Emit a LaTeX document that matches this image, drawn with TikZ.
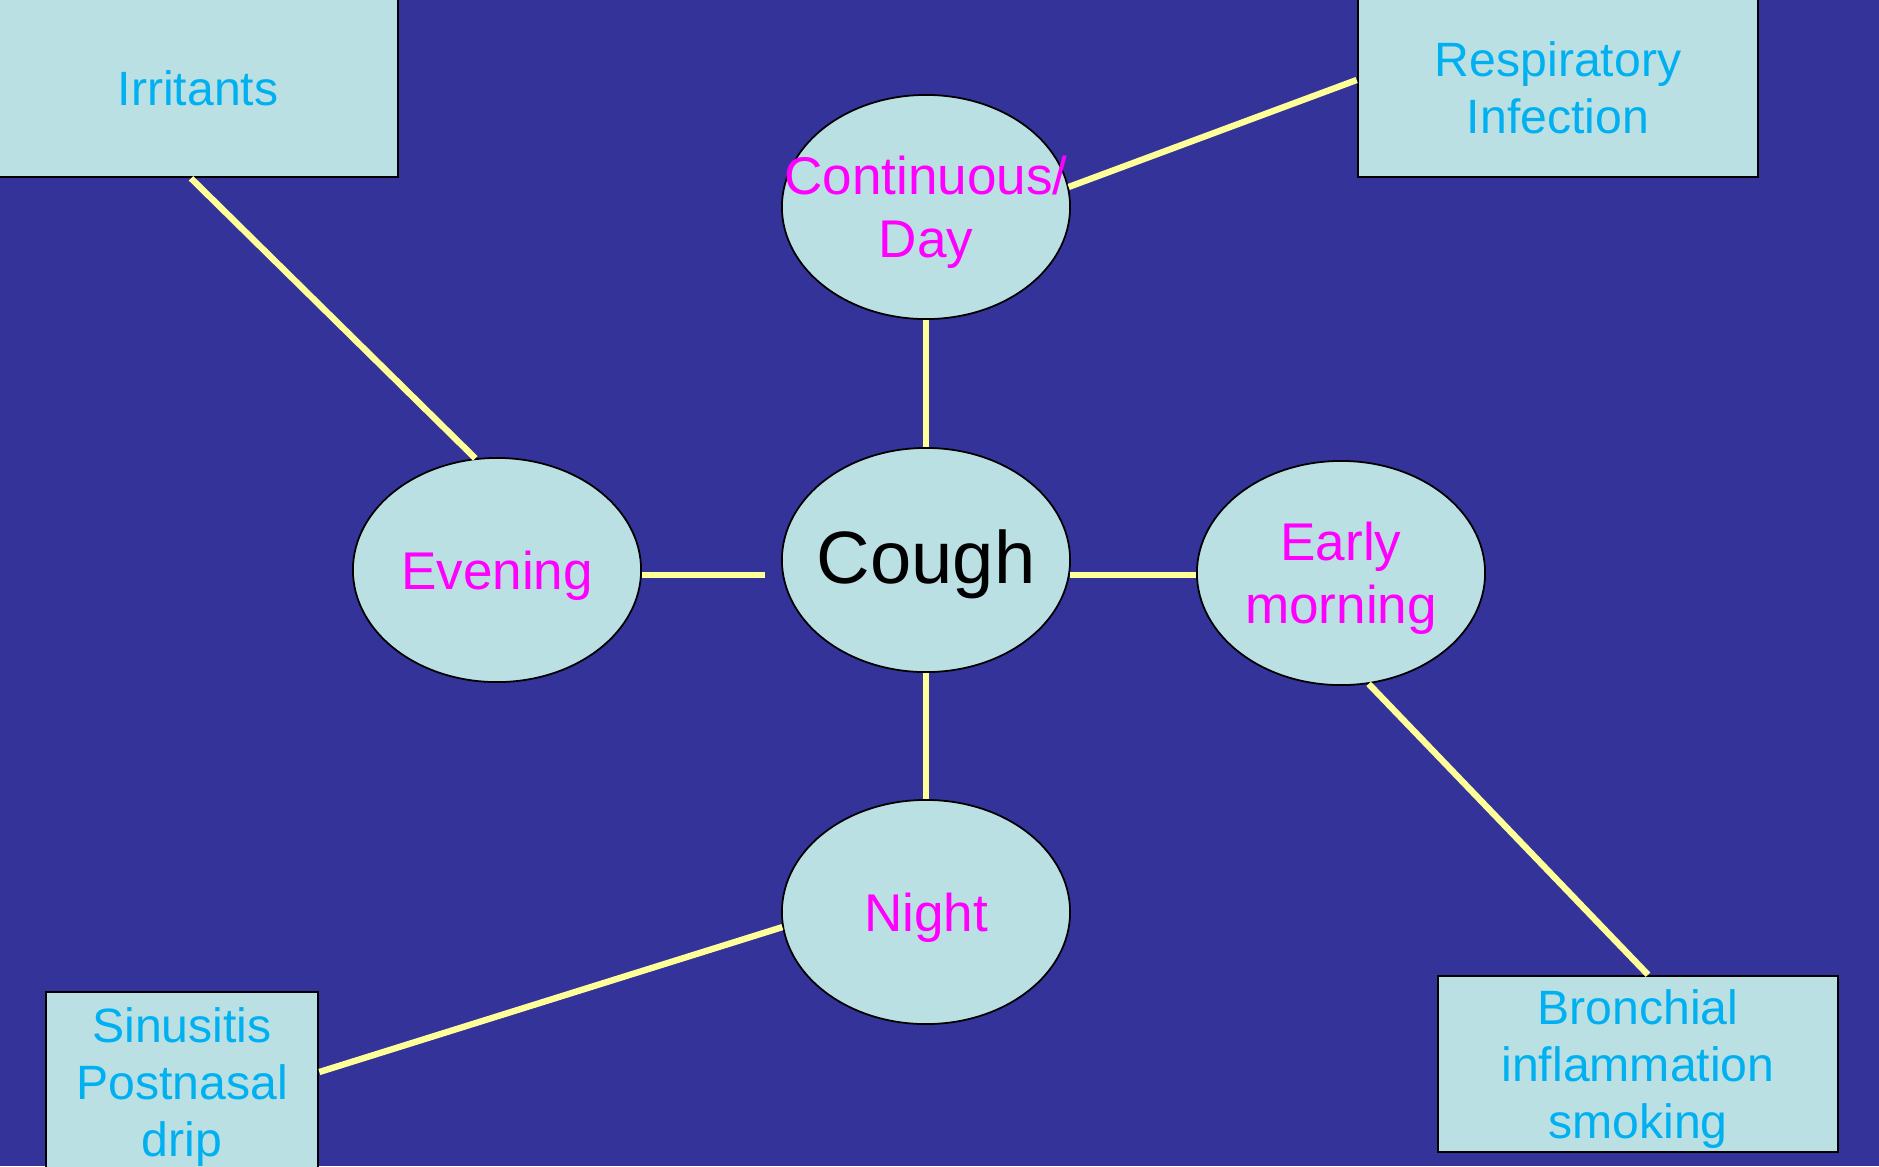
\documentclass[tikz,border=0pt]{standalone}
\usepackage{fontspec}
\setmainfont{Liberation Sans}
\usetikzlibrary{shapes.geometric}
\definecolor{slideblue}{RGB}{51,51,153}
\definecolor{paleteal}{RGB}{187,224,227}
\definecolor{causeblue}{RGB}{0,176,240}
\definecolor{timemagenta}{RGB}{255,0,255}
\definecolor{linkyellow}{RGB}{255,255,153}

\begin{document}
\begin{tikzpicture}[x=0.01cm, y=-0.01cm,
  bubble/.style={draw, ellipse, fill=paleteal, line width=0.5pt, minimum width=2.88cm, minimum height=2.24cm, inner xsep=-1cm, inner ysep=0pt, text depth=0pt, align=center, text=timemagenta, font=\fontsize{15.1}{18}\selectfont},
  cause/.style={draw, rectangle, fill=paleteal, line width=0.7pt, inner sep=0pt, align=center, text=causeblue, font=\fontsize{13.7}{16.3}\selectfont},
  link/.style={linkyellow, line width=1.8pt}
]
\fill[slideblue] (0,0) rectangle (1879,1166);
\useasboundingbox (0,0) rectangle (1879,1166);
\node[cause, minimum width=4cm, minimum height=1.78cm] (irritants) at (198,88) {Irritants};
\node[cause, minimum width=4cm, minimum height=1.78cm] (resp) at (1558,88) {Respiratory\\Infection};
\node[cause, minimum width=2.72cm, minimum height=1.9cm] (sinus) at (182,1087) {Sinusitis\\Postnasal\\drip};
\node[cause, minimum width=4cm, minimum height=1.76cm, text depth=0pt] (bronch) at (1638,1064) {Bronchial\\inflammation\\smoking};
\node[bubble] (cont) at (926,207) {Continuous/\\Day};
\node[bubble, text=black, text depth=1.9pt, font=\fontsize{21.1}{26}\selectfont] (cough) at (926,560) {Cough};
\node[bubble] (evening) at (497,570) {Evening};
\node[bubble] (early) at (1341,573) {Early\\morning};
\node[bubble] (night) at (926,912) {Night};
\draw[link] ([xshift=-0.07cm]irritants.south) -- (evening.101);
\draw[link] (cont.8) -- ([yshift=0.08cm]resp.west);
\draw[link] (cont.south) -- (cough.north);
\draw[link, shorten >=0.16cm] (evening.east |- cough.-6) -- (cough.west |- cough.-6);
\draw[link] (cough.-6) -- (early.west |- cough.-6);
\draw[link] (cough.south) -- (night.north);
\draw[link] (night.186) -- ([yshift=0.15cm]sinus.east);
\draw[link] (early.-76) -- ([xshift=0.1cm]bronch.north);
\end{tikzpicture}
\end{document}
